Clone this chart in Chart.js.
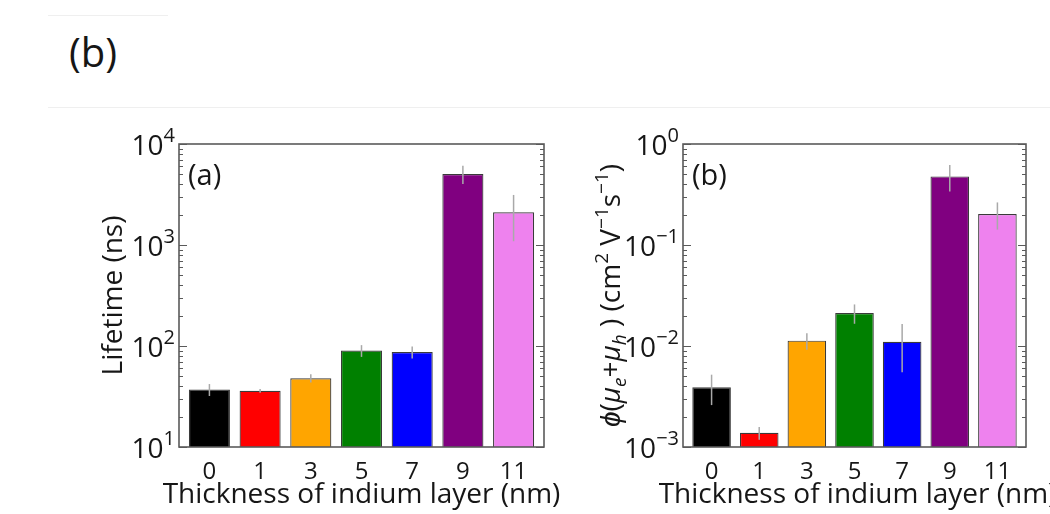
<!DOCTYPE html>
<html lang="en">
<head>
<meta charset="UTF-8">
<title>Indium layer thickness</title>
<script src="https://cdn.jsdelivr.net/npm/chart.js"></script>
<style>
  html, body { margin: 0; padding: 0; background: #fff; }
  body { width: 1050px; height: 514px; position: relative; overflow: hidden; font-family: 'Open Sans', sans-serif; color: #161616; }
  .panel { position: absolute; top: 0; height: 514px; }
  #leftPanel { left: 0; width: 560px; }
  #rightPanel { left: 560px; width: 490px; }
  .tag { position: absolute; left: 69px; top: 32px; font-size: 40px; line-height: 1; }
  .rule { position: absolute; height: 1px; background: #efefef; }
</style>
</head>
<body>

<div class="rule" style="left:48px; top:15px; width:120px;"></div>
<div class="rule" style="left:48px; top:107px; width:1002px;"></div>
<div class="tag">(b)</div>

<div class="panel" id="leftPanel"><canvas id="lifetimeChart"></canvas></div>
<div class="panel" id="rightPanel"><canvas id="mobilityChart"></canvas></div>

<script>
  // indium thickness (nm) for each sample
  const thickness = ['0', '1', '3', '5', '7', '9', '11'];
  const barColors = ['#000000', '#ff0000', '#ffa500', '#008000', '#0000ff', '#800080', '#ee82ee'];

  // carrier lifetime (ns) and its error
  const lifetime = [37, 36, 48, 90, 87, 5050, 2110];
  const lifetimeErr = [5, 1.5, 4.6, 12, 12, 1030, 1020];

  // phi*(mu_e + mu_h) in cm2/Vs and its error
  const mobility = [0.0039, 0.00138, 0.0113, 0.0212, 0.011, 0.478, 0.203];
  const mobilityErr = [0.0013, 0.0002, 0.0021, 0.0046, 0.0055, 0.14, 0.061];

  const FONT = "'Open Sans', sans-serif";
  const INK = '#161616';

  // text runs (sub/superscripts) laid out left to right on one baseline
  function runWidth(ctx, runs) {
    return runs.reduce((w, r) => { ctx.font = r.font; return w + ctx.measureText(r.t).width; }, 0);
  }
  function drawRuns(ctx, runs, x) {
    runs.forEach(r => {
      ctx.font = r.font;
      ctx.fillText(r.t, x, r.dy || 0);
      x += ctx.measureText(r.t).width;
    });
  }

  const panelDecor = {
    id: 'panelDecor',
    afterDatasetsDraw(chart, args, o) {
      const { ctx, chartArea: a, scales: { y } } = chart;
      const meta = chart.getDatasetMeta(0);
      ctx.save();

      // error bars
      ctx.strokeStyle = '#a9a9a9';
      ctx.lineWidth = 1.5;
      o.errors.forEach((e, i) => {
        const v = o.values[i];
        const px = meta.data[i].x;
        ctx.beginPath();
        ctx.moveTo(px, y.getPixelForValue(v + e));
        ctx.lineTo(px, y.getPixelForValue(v - e));
        ctx.stroke();
      });

      // axes box
      ctx.strokeStyle = '#5a5a5a';
      ctx.lineWidth = 1.6;
      ctx.strokeRect(a.left, a.top, a.right - a.left, a.bottom - a.top);

      // inward log ticks on both sides + decade labels
      ctx.lineWidth = 1;
      ctx.fillStyle = INK;
      ctx.textBaseline = 'alphabetic';
      y.ticks.forEach(t => {
        const p = Math.round(y.getPixelForValue(t.value)) + 0.5;
        const len = t.major ? 8 : 4;
        ctx.beginPath();
        ctx.moveTo(a.left, p); ctx.lineTo(a.left + len, p);
        ctx.moveTo(a.right, p); ctx.lineTo(a.right - len, p);
        ctx.stroke();
        if (t.major) {
          const ex = Math.round(Math.log10(t.value));
          const runs = [
            { t: '10', font: '28px ' + FONT, dy: 10 },
            { t: (ex < 0 ? '\u2212' : '') + Math.abs(ex), font: '20px ' + FONT, dy: -3 }
          ];
          ctx.translate(0, p);
          drawRuns(ctx, runs, a.left - 4 - runWidth(ctx, runs));
          ctx.translate(0, -p);
        }
      });

      // panel tag
      ctx.font = '29px ' + FONT;
      ctx.textAlign = 'left';
      ctx.fillText(o.tag, a.left + 9, a.top + 41);

      // x title
      ctx.font = '28px ' + FONT;
      ctx.textAlign = 'center';
      ctx.fillText('Thickness of indium layer (nm)', (a.left + a.right) / 2 + o.xTitleShift, 503);

      // rotated y title
      ctx.textAlign = 'left';
      ctx.translate(o.yTitleX, (a.top + a.bottom) / 2);
      ctx.rotate(-Math.PI / 2);
      drawRuns(ctx, o.yTitle, -runWidth(ctx, o.yTitle) / 2);
      ctx.restore();
    }
  };

  function decadeTicks(scale) {
    const lo = Math.round(Math.log10(scale.min));
    const hi = Math.round(Math.log10(scale.max));
    const t = [];
    for (let e = lo; e < hi; e++) {
      for (let m = 1; m < 10; m++) t.push({ value: m * Math.pow(10, e), major: m === 1 });
    }
    t.push({ value: Math.pow(10, hi), major: true });
    scale.ticks = t;
  }

  function makePanel(id, values, errors, yMin, yMax, axisWidth, padRight, decor) {
    return new Chart(document.getElementById(id), {
      type: 'bar',
      data: {
        datasets: [{
          data: thickness.map((_, i) => ({ x: i, y: values[i] })),
          backgroundColor: barColors,
          borderColor: '#3a3a3a',
          borderWidth: 1.2,
          barPercentage: 0.81,
          categoryPercentage: 1
        }]
      },
      options: {
        responsive: true,
        maintainAspectRatio: false,
        animation: false,
        layout: { padding: { top: 144, right: padRight, left: 0, bottom: 0 } },
        plugins: {
          legend: { display: false },
          tooltip: { enabled: false },
          panelDecor: Object.assign({ values, errors }, decor)
        },
        scales: {
          x: {
            type: 'linear',
            offset: false,
            min: -0.6,
            max: 6.6,
            grid: { display: false },
            border: { display: false },
            afterBuildTicks: s => { s.ticks = thickness.map((_, i) => ({ value: i })); },
            afterFit: s => { s.height = 67; },
            ticks: {
              autoSkip: false,
              maxRotation: 0,
              padding: 3,
              color: INK,
              font: { family: FONT, size: 24 },
              callback: v => thickness[Math.round(v)]
            }
          },
          y: {
            type: 'logarithmic',
            min: yMin,
            max: yMax,
            grid: { display: false },
            border: { display: false },
            ticks: { display: false },
            afterBuildTicks: decadeTicks,
            afterFit: s => { s.width = axisWidth; }
          }
        }
      },
      plugins: [panelDecor]
    });
  }

  const big = '28px ' + FONT;
  const ital = 'italic 28px ' + FONT;
  const small = '19px ' + FONT;
  const smallItal = 'italic 19px ' + FONT;

  makePanel('lifetimeChart', lifetime, lifetimeErr, 10, 10000, 179, 16, {
    tag: '(a)',
    xTitleShift: 0,
    yTitleX: 122,
    yTitle: [{ t: 'Lifetime (ns)', font: big }]
  });

  makePanel('mobilityChart', mobility, mobilityErr, 0.001, 1, 123, 24, {
    tag: '(b)',
    xTitleShift: 3,
    yTitleX: 60,
    yTitle: [
      { t: '\u03D5', font: ital },
      { t: '(', font: big },
      { t: '\u03BC', font: ital },
      { t: 'e', font: smallItal, dy: 6 },
      { t: '+', font: big },
      { t: '\u03BC', font: ital },
      { t: 'h', font: smallItal, dy: 6 },
      { t: ' ) (cm', font: big },
      { t: '2', font: small, dy: -12 },
      { t: ' V', font: big },
      { t: '\u22121', font: small, dy: -12 },
      { t: 's', font: big },
      { t: '\u22121', font: small, dy: -12 },
      { t: ')', font: big }
    ]
  });
</script>
</body>
</html>
